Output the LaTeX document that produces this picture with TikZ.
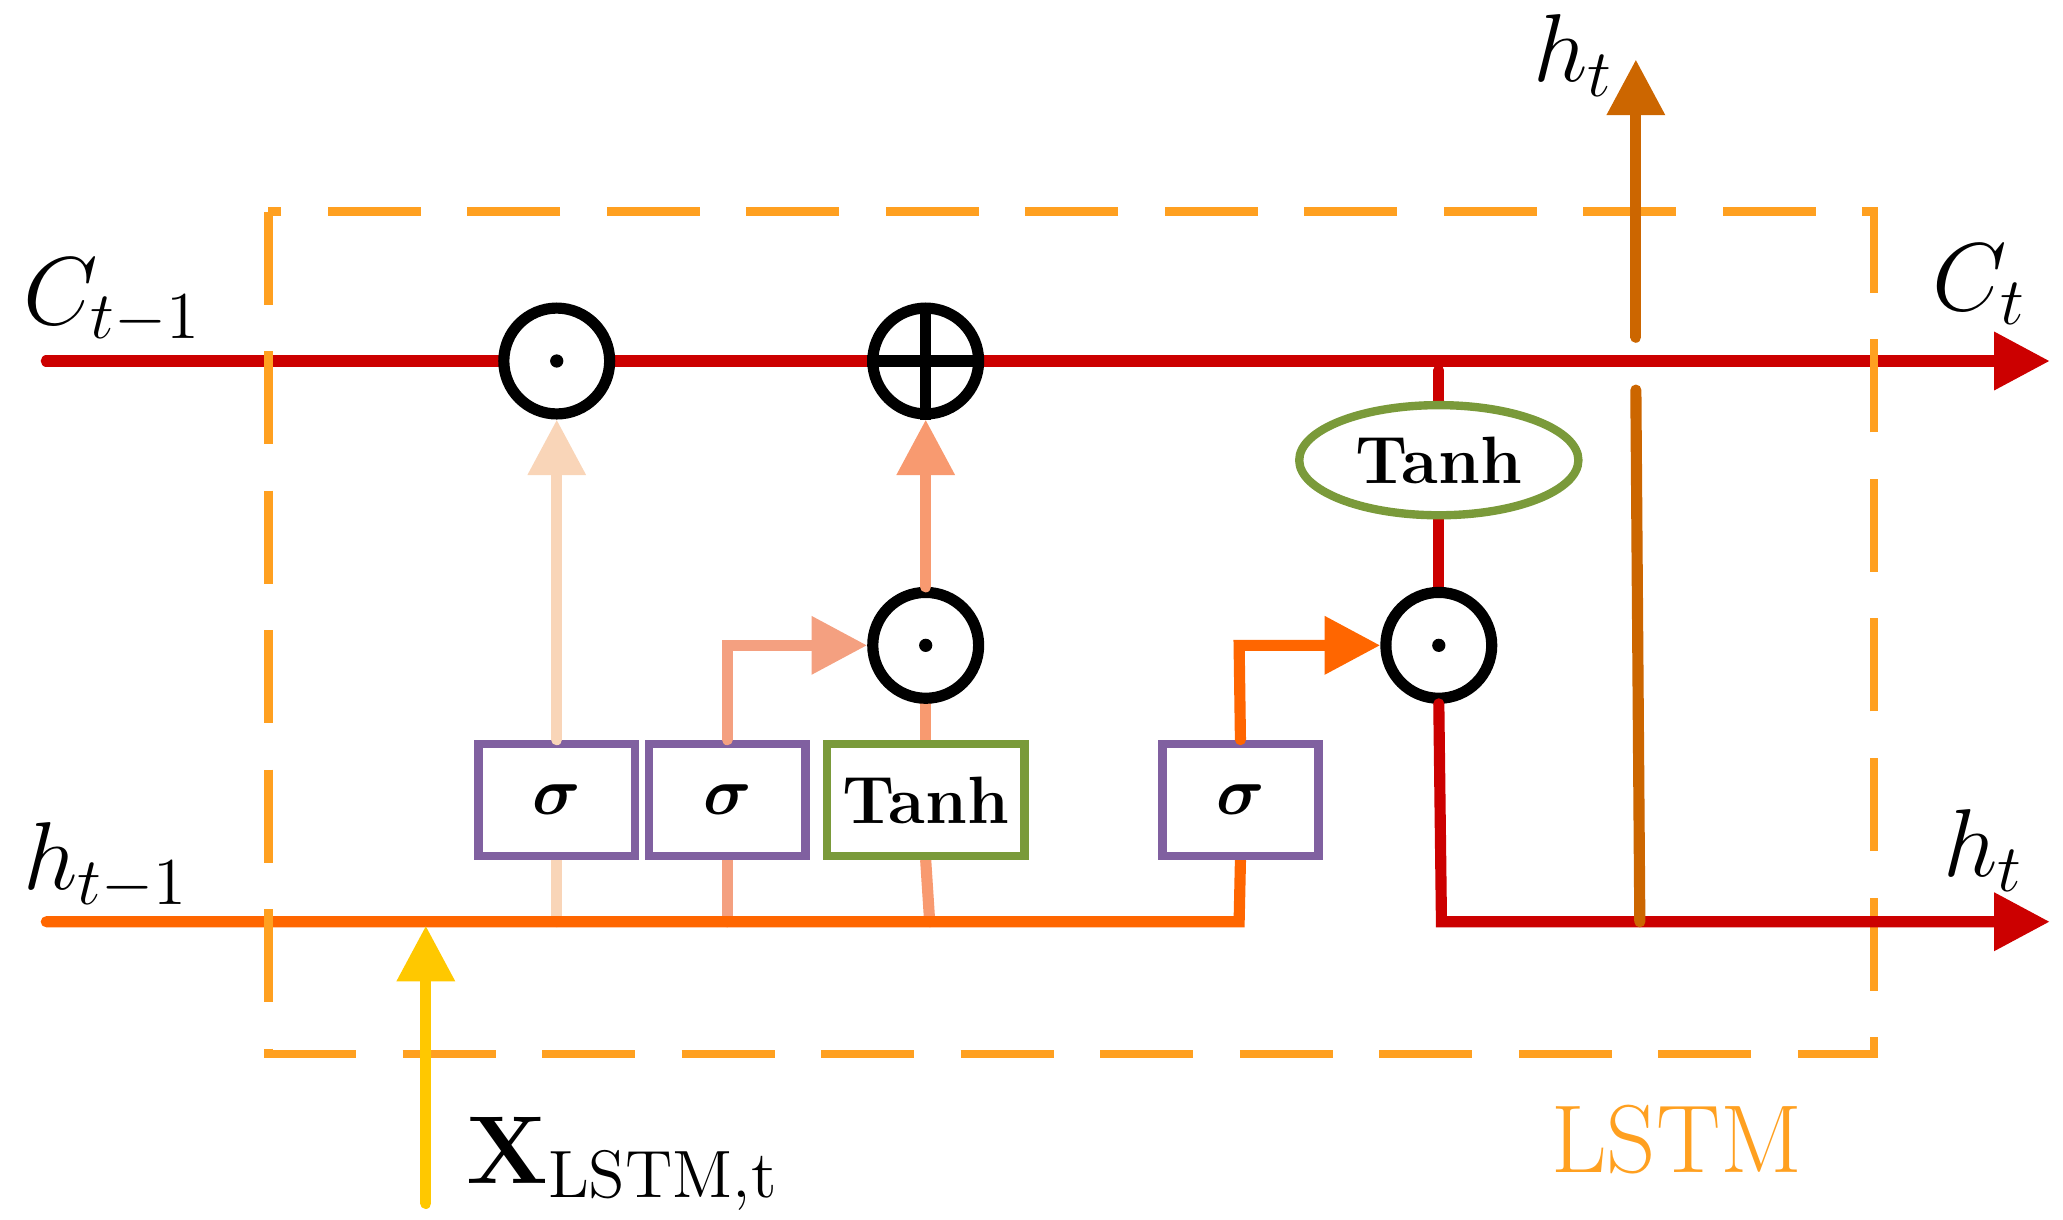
\documentclass[tikz,border=0pt]{standalone}
\usepackage{amsmath,bm}
\usetikzlibrary{arrows.meta,shapes.geometric}
\definecolor{cred}{HTML}{CC0000}
\definecolor{horange}{HTML}{FF6600}
\definecolor{htop}{HTML}{CC6600}
\definecolor{fgate}{HTML}{F9D5B8}
\definecolor{igate}{HTML}{F4A080}
\definecolor{ggate}{HTML}{F89A70}
\definecolor{xin}{HTML}{FFC800}
\definecolor{box}{HTML}{FFA020}
\definecolor{gbord}{HTML}{7A9A3A}
\definecolor{pbord}{HTML}{8060A0}
\pgfdeclarelayer{bg}
\pgfsetlayers{bg,main}
\begin{document}
\begin{tikzpicture}[x=0.01cm,y=-0.01cm,
  ln/.style={line width=2.4pt,line cap=round},
  ar/.style={ln,-{Triangle[length=0.42cm,width=0.42cm]}},
  op/.style={circle,draw=black,line width=2.4pt,minimum size=0.8cm,inner sep=0pt,fill=white},
  gate/.style={draw=pbord,line width=1.8pt,minimum width=1.18cm,minimum height=0.85cm,fill=white,font=\Large\bfseries},
  lab/.style={font=\huge}]
\useasboundingbox (0,0) rectangle (1560,922);
\draw[box,line width=1.8pt,dash pattern=on 20pt off 10pt] (203,160) rectangle (1417,797);
% nodes
\node[op] (f) at (421,273) {};
\fill (f) circle (0.05cm);
\node[op] (a) at (700,273) {};
\draw[line width=2.4pt] (a.north) -- (a.south) (a.west) -- (a.east);
\node[op] (m1) at (700,488) {};
\fill (m1) circle (0.05cm);
\node[op] (m2) at (1088,488) {};
\fill (m2) circle (0.05cm);
\node[ellipse,draw=gbord,line width=1.8pt,minimum width=1.55cm,minimum height=0.78cm,fill=white,font=\Large\bfseries] (th) at (1088,348) {Tanh};
\node[gate] (s1) at (421,605) {$\bm\sigma$};
\node[gate] (s2) at (550,605) {$\bm\sigma$};
\node[gate,draw=gbord] (tb) at (700,605) {Tanh};
\node[gate] (s3) at (938,605) {$\bm\sigma$};
\coordinate (cin) at (35,273);
\coordinate (cout) at (1550,273);
\coordinate (hin) at (35,697);
\coordinate (hout) at (1550,697);
\coordinate (hup) at (1237,45);
\begin{pgfonlayer}{bg}
\draw[ln,fgate] (421,697) -- (s1.south);
\draw[ln,igate] (550,697) -- (s2.south);
\draw[ln,ggate] (703,697) -- (tb.south);
\draw[ln,ggate] (tb.north) -- (m1.south);
\draw[ln,horange] (hin) -- (937,697) -- (s3.south);
\draw[ar,cred] (cin) -- (cout);
\draw[ln,cred] (1088,280) -- (m2.north);
\end{pgfonlayer}
\draw[ar,fgate] (s1.north) -- (f.south);
\draw[ar,igate] (s2.north) -- (550,488) -- (m1.west);
\draw[ar,ggate] (m1.north) -- (a.south);
\draw[ar,horange] (s3.north) -- (937,488) -- (m2.west);
\draw[ar,cred] (m2.south) -- (1090,697) -- (hout);
\draw[ar,htop] (1237,255) -- (hup);
\draw[ln,htop] (1237,295) -- (1240,697);
\draw[ar,xin] (322,910) -- (322,700);
% labels
\node[lab] at (85,228) {$C_{t-1}$};
\node[lab] at (80,655) {$h_{t-1}$};
\node[lab] at (1497,215) {$C_t$};
\node[lab] at (1500,643) {$h_t$};
\node[lab] at (1190,42) {$h_t$};
\node[font=\huge,anchor=west] at (340,880) {$\mathbf{X}_{\mathrm{LSTM,t}}$};
\node[font=\huge,text=box] at (1268,862) {LSTM};
\end{tikzpicture}
\end{document}
